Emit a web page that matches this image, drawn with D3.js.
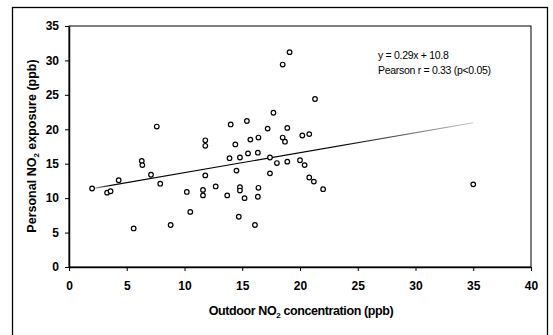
<!DOCTYPE html>
<html>
<head>
<meta charset="utf-8">
<script src="https://cdn.jsdelivr.net/npm/d3@7"></script>
<style>
  body { margin: 0; background: #fff; }
  text { font-family: "Liberation Sans", Arial, sans-serif; }
</style>
</head>
<body>
<div id="chart"></div>
<script>
// outdoor NO2 (ppb) vs personal NO2 exposure (ppb)
var outdoor = [2.0, 3.3, 3.6, 4.3, 5.6, 6.3, 6.35, 7.1, 7.6, 7.9, 8.8,
  10.2, 10.5, 11.6, 11.6, 11.8, 11.8, 11.8, 12.7, 13.7, 13.9, 14.0, 14.4, 14.5,
  14.7, 14.8, 14.8, 14.8, 15.2, 15.4, 15.5, 15.7, 16.1, 16.35, 16.4, 16.4, 16.35,
  17.2, 17.4, 17.4, 17.7, 18.0, 18.5, 18.5, 18.7, 18.9, 18.9, 19.1, 20.0, 20.2,
  20.4, 20.8, 20.8, 21.2, 21.3, 22.0, 35.0];
var personal = [11.4, 10.8, 11.0, 12.6, 5.6, 15.4, 14.8, 13.4, 20.4, 12.1, 6.1,
  10.9, 8.0, 11.2, 10.4, 18.4, 17.6, 13.3, 11.7, 10.4, 15.8, 20.7, 17.8, 14.0,
  7.3, 15.9, 11.6, 11.1, 10.0, 21.2, 16.5, 18.5, 6.1, 16.6, 18.8, 11.5, 10.2,
  20.1, 15.9, 13.6, 22.4, 15.1, 29.4, 18.8, 18.2, 20.2, 15.3, 31.2, 15.5, 19.1,
  14.8, 19.3, 13.0, 12.4, 24.4, 11.3, 12.0];
var slope = 0.29, intercept = 10.8;
var xTicks = [0, 5, 10, 15, 20, 25, 30, 35, 40];
var yTicks = [0, 5, 10, 15, 20, 25, 30, 35];
var fitLabels = ["y = 0.29x + 10.8", "Pearson r = 0.33 (p<0.05)"];

var W = 553, H = 335;
var margin = {top: 26, right: 22, bottom: 68, left: 69},
    width = W - margin.left - margin.right,
    height = H - margin.top - margin.bottom;

var root = d3.select("#chart").append("svg")
    .attr("width", W)
    .attr("height", H);

// outer frame
root.append("rect")
    .attr("x", 12.5).attr("y", 7.5)
    .attr("width", 535).attr("height", 340)
    .attr("fill", "none").attr("stroke", "#000").attr("stroke-width", 1.3);

var svg = root.append("g")
    .attr("transform", "translate(" + margin.left + "," + margin.top + ")");

var x = d3.scaleLinear().domain([0, 40]).range([0, width]);
var y = d3.scaleLinear().domain([0, 35]).range([height, 0]);

// plot area border
svg.append("rect")
    .attr("x", 0).attr("y", 0)
    .attr("width", width).attr("height", height)
    .attr("fill", "none").attr("stroke", "#000").attr("stroke-width", 1);

var xAxis = svg.append("g")
    .attr("transform", "translate(0," + height + ")")
    .call(d3.axisBottom(x).tickValues(xTicks).tickSize(4).tickSizeOuter(0).tickPadding(10));
var yAxis = svg.append("g")
    .call(d3.axisLeft(y).tickValues(yTicks).tickSize(4).tickSizeOuter(0).tickPadding(6));

[xAxis, yAxis].forEach(function(a) {
  a.select(".domain").attr("stroke", "#000").attr("stroke-width", 1.5);
  a.selectAll("line").attr("stroke", "#000");
  a.selectAll("text")
    .attr("font-size", 12)
    .attr("font-weight", "bold")
    .attr("font-family", "'Liberation Sans', Arial, sans-serif")
    .attr("fill", "#000");
});

// fitted line, fading at the right end
var x0 = 2, x1 = 35;
var grad = root.append("defs").append("linearGradient")
    .attr("id", "fade").attr("gradientUnits", "userSpaceOnUse")
    .attr("x1", x(x0)).attr("x2", x(x1)).attr("y1", 0).attr("y2", 0);
grad.append("stop").attr("offset", "0").attr("stop-color", "#bbb");
grad.append("stop").attr("offset", "0.05").attr("stop-color", "#000");
grad.append("stop").attr("offset", "0.65").attr("stop-color", "#000");
grad.append("stop").attr("offset", "1").attr("stop-color", "#ccc");

svg.append("line")
    .attr("x1", x(x0)).attr("y1", y(slope * x0 + intercept))
    .attr("x2", x(x1)).attr("y2", y(slope * x1 + intercept))
    .attr("stroke", "url(#fade)")
    .attr("stroke-width", 1.1);

// points
svg.append("g")
  .selectAll("circle")
  .data(outdoor.map(function(v, i) { return {x: v, y: personal[i]}; }))
  .enter()
  .append("circle")
    .attr("cx", function(d) { return x(d.x); })
    .attr("cy", function(d) { return y(d.y); })
    .attr("r", 2.3)
    .attr("fill", "#fff")
    .attr("stroke", "#000")
    .attr("stroke-width", 1.2);

// equation text
svg.selectAll(".fit")
  .data(fitLabels)
  .enter()
  .append("text")
    .attr("class", "fit")
    .attr("x", 309)
    .attr("y", function(d, i) { return 33 + i * 15; })
    .attr("font-size", 10.5)
    .attr("letter-spacing", -0.3)
    .attr("fill", "#000")
    .text(function(d) { return d; });

// axis titles
var xt = root.append("text")
    .attr("x", 301).attr("y", 315)
    .attr("text-anchor", "middle")
    .attr("font-size", 12.5)
    .attr("font-weight", "bold")
    .attr("letter-spacing", -0.4);
xt.append("tspan").text("Outdoor NO");
xt.append("tspan").attr("font-size", 8).attr("dy", 3).text("2");
xt.append("tspan").attr("dy", -3).text(" concentration (ppb)");

var yt = root.append("text")
    .attr("transform", "translate(36,146) rotate(-90)")
    .attr("text-anchor", "middle")
    .attr("font-size", 12.5)
    .attr("font-weight", "bold");
yt.append("tspan").text("Personal NO");
yt.append("tspan").attr("font-size", 8).attr("dy", 3).text("2");
yt.append("tspan").attr("dy", -3).text(" exposure (ppb)");
</script>
</body>
</html>
